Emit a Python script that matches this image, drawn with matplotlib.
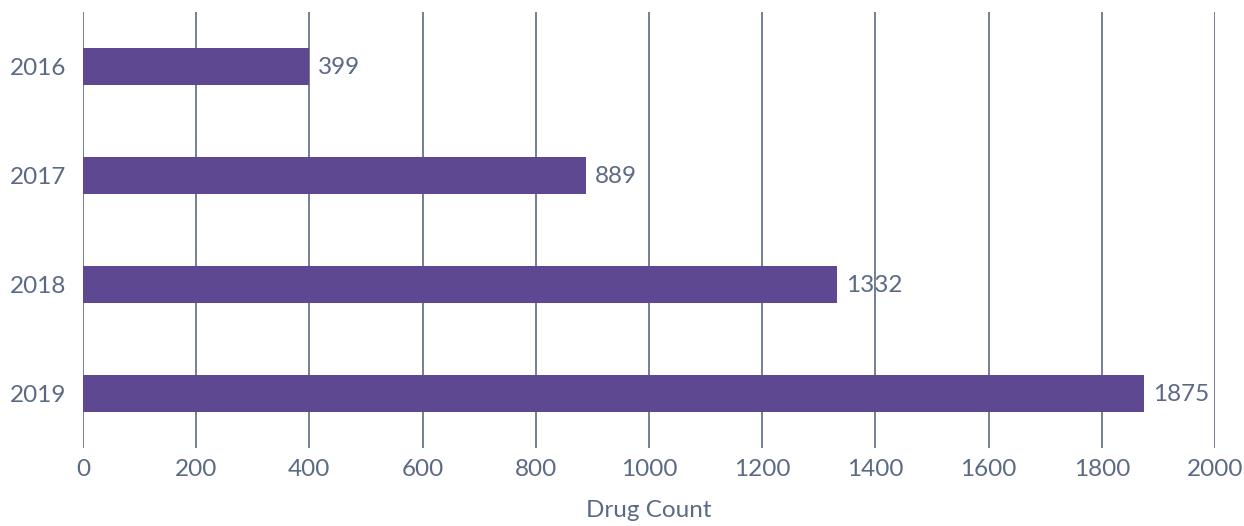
import matplotlib
matplotlib.use("Agg")
import matplotlib.pyplot as plt

years = ["2016", "2017", "2018", "2019"]
counts = [399, 889, 1332, 1875]
xticks = [0, 200, 400, 600, 800, 1000, 1200, 1400, 1600, 1800, 2000]

bar_color = "#5E4891"
text_color = "#5B6A84"
grid_color = "#5E6A82"

plt.rcParams["font.family"] = ["Lato", "DejaVu Sans"]
fs = 17.5

fig = plt.figure(figsize=(12.44, 5.26), dpi=100)
ax = fig.add_axes([83 / 1244, (526 - 448) / 526, (1215 - 83) / 1244, 436 / 526])

ypos = list(range(len(years)))
ax.barh(ypos, counts, height=0.34, color=bar_color, zorder=3)
for y, c in zip(ypos, counts):
    ax.annotate(str(c), (c, y), xytext=(6.5, -1), textcoords="offset points",
                va="center", ha="left", fontsize=fs, color=text_color)

ax.set_xlim(0, 2000)
ax.set_ylim(3.5, -0.5)
ax.set_yticks(ypos)
ax.set_yticklabels(years)
ax.set_xticks(xticks)
ax.set_xticklabels([str(t) for t in xticks])
ax.grid(axis="x", color=grid_color, linewidth=1.2, zorder=0)
ax.grid(axis="y", visible=False)
for s in ax.spines.values():
    s.set_visible(False)
ax.tick_params(axis="both", length=0, labelsize=fs, labelcolor=text_color)
ax.tick_params(axis="x", pad=8)
ax.tick_params(axis="y", pad=12)
ax.set_xlabel("Drug Count", fontsize=fs, color=text_color, labelpad=14)

fig.savefig("out.png", dpi=100)
